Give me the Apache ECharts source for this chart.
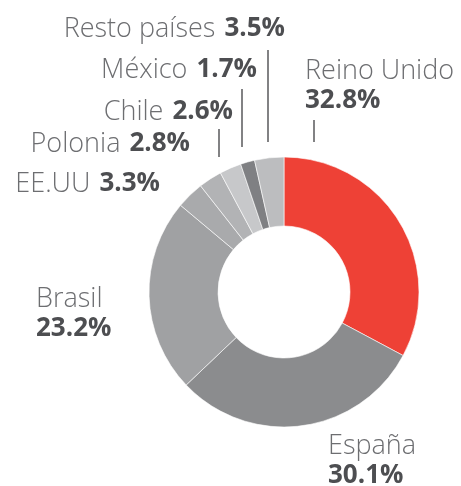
<!DOCTYPE html>
<html><head><meta charset="utf-8">
<script src="https://cdn.jsdelivr.net/npm/echarts@6/dist/echarts.min.js"></script>
<style>html,body{margin:0;padding:0;background:#fff}#c{width:461px;height:486px}</style>
</head><body><div id="c"></div>
<script>
const countries = ['Reino Unido','España','Brasil','EE.UU','Polonia','Chile','México','Resto países'];
const shares = [32.8, 30.1, 23.2, 3.3, 2.8, 2.6, 1.7, 3.5];
const colors = ['#EE4136','#8B8C8E','#A0A1A3','#A9AAAC','#B2B3B5','#C7C8CA','#7F8083','#BCBDBF'];
// label layout: [x, y, align, twoLines]
const labelPos = [
  [305, 86, 'left', true],
  [328, 461, 'left', true],
  [36, 314, 'left', true],
  [160, 184, 'right', false],
  [190, 144, 'right', false],
  [233, 112, 'right', false],
  [257, 70, 'right', false],
  [285, 29, 'right', false]
];
const leaders = [[268,50,268,142],[242,89,242,147],[219,129,219,157],[314,120,314,142]];

const chart = echarts.init(document.getElementById('c'), null, {renderer:'canvas'});
const fontFam = '"Open Sans", sans-serif';
chart.setOption({
  animation:false,
  series:[{
    type:'pie',
    center:[284,292],
    radius:[66,135],
    startAngle:90,
    clockwise:true,
    silent:true,
    avoidLabelOverlap:false,
    data: countries.map((n,i)=>({name:n, value:shares[i], itemStyle:{color:colors[i]},
      label:{formatter: labelPos[i][3] ? '{n|'+n+'}\n{v|'+shares[i].toFixed(1)+'%}' : '{n|'+n+'}{s|}{v|'+shares[i].toFixed(1)+'%}'}})),
    itemStyle:{borderColor:'#ffffff', borderWidth:0.6},
    label:{show:true, position:'outside', overflow:'none', width:400,
      rich:{
        n:{fontFamily:fontFam, fontWeight:300, fontSize:27, color:'#6D6E71', lineHeight:30},
        s:{width:9, fontSize:27, lineHeight:30},
        v:{fontFamily:fontFam, fontWeight:'bold', fontSize:26, color:'#4D4E51', lineHeight:30}
      }},
    labelLine:{show:false},
    labelLayout: function(p){
      const L = labelPos[p.dataIndex];
      return {x:L[0], y:L[1], align:L[2], verticalAlign:'middle', hideOverlap:false, moveOverlap:false};
    }
  }],
  graphic: leaders.map(l=>({type:'line', shape:{x1:l[0],y1:l[1],x2:l[2],y2:l[3]}, style:{stroke:'#58595B', lineWidth:1.5}, silent:true}))
});
</script></body></html>
